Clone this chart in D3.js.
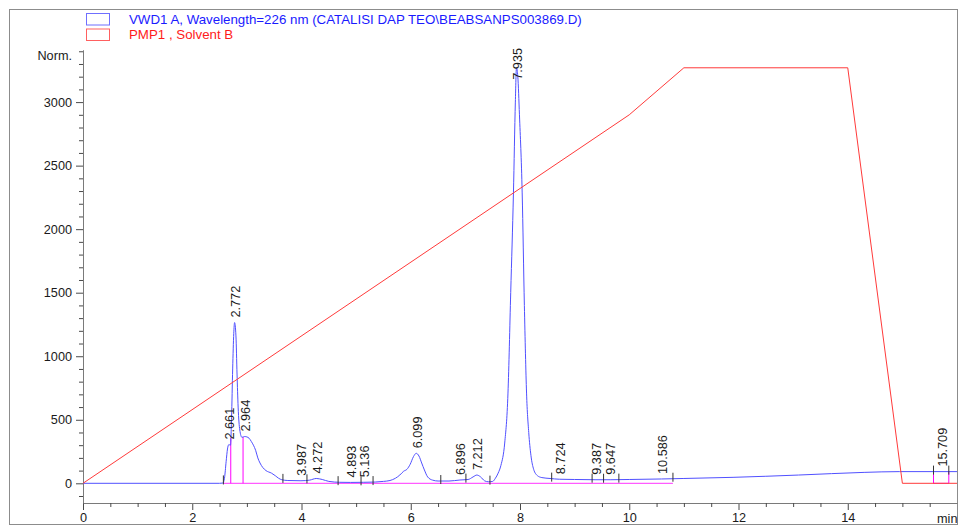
<!DOCTYPE html>
<html><head><meta charset="utf-8">
<script src="https://cdn.jsdelivr.net/npm/d3@7"></script>
<style>
html,body{margin:0;padding:0;background:#fff;}
svg{display:block;font-family:"Liberation Sans",Arial,sans-serif;}
</style></head>
<body><svg id="c" width="960" height="526"></svg>
<script>
// ---- data ----
const legendLabels = ["VWD1 A, Wavelength=226 nm (CATALISI DAP TEO\\BEABSANPS003869.D)", "PMP1 , Solvent B"];
const yMajorTicks = [0, 500, 1000, 1500, 2000, 2500, 3000];
const yMinorTicks = [-100, 100, 200, 300, 400, 600, 700, 800, 900, 1100, 1200, 1300, 1400, 1600, 1700, 1800, 1900, 2100, 2200, 2300, 2400, 2600, 2700, 2800, 2900, 3100, 3200, 3300, 3400];
const xMajorTicks = [0, 2, 4, 6, 8, 10, 12, 14];
const xMinorTicks = [0.5, 1, 1.5, 2.5, 3, 3.5, 4.5, 5, 5.5, 6.5, 7, 7.5, 8.5, 9, 9.5, 10.5, 11, 11.5, 12.5, 13, 13.5, 14.5, 15, 15.5];
// VWD1 A signal: [time (min), Norm.]
const signalTrace = [
 [0,0],[2.50,0],[2.56,2],[2.59,40],[2.62,170],[2.645,270],[2.67,305],[2.70,300],[2.72,520],[2.74,900],
 [2.76,1180],[2.775,1265],[2.80,1160],[2.82,860],[2.84,600],[2.87,420],[2.91,362],[2.96,368],[3.00,365],
 [3.04,355],[3.08,330],[3.12,300],[3.16,260],[3.20,200],[3.24,160],[3.29,125],[3.35,100],[3.45,80],
 [3.52,60],[3.58,40],[3.64,28],[3.75,22],[3.99,20],[4.15,25],[4.27,38],[4.38,30],[4.50,15],[4.70,8],
 [4.90,7],[5.14,8],[5.35,10],[5.50,15],[5.62,22],[5.72,40],[5.80,65],[5.87,95],[5.93,110],[5.99,150],
 [6.05,210],[6.10,236],[6.15,215],[6.20,160],[6.25,105],[6.31,50],[6.40,25],[6.50,18],[6.70,18],
 [6.90,26],[7.05,30],[7.14,50],[7.21,65],[7.28,50],[7.35,20],[7.42,12],[7.50,15],[7.55,40],[7.60,80],
 [7.65,140],[7.72,317],[7.78,710],[7.83,1500],[7.88,2285],[7.915,3000],[7.935,3270],[7.96,3200],
 [7.99,2900],[8.04,2285],[8.08,1400],[8.12,710],[8.16,400],[8.20,220],[8.25,110],[8.32,60],[8.40,45],
 [8.55,38],[8.72,32],[9.0,30],[9.39,28],[9.65,28],[10.0,30],[10.59,34],[11.0,38],[11.9,47],[13.1,65],
 [14.3,86],[14.95,92],[16.0,92]
];
// PMP1 Solvent B (drawn on the Norm. scale)
const solventTrace = [[0,0],[10,2900],[11,3270],[14,3270],[15,0],[16,0]];
// integration results
const peakTimes = [2.661, 2.772, 2.964, 3.987, 4.272, 4.893, 5.136, 6.099, 6.896, 7.212, 7.935, 8.724, 9.387, 9.647, 10.586, 15.709];
const eventTimes = [2.57, 3.66, 4.10, 4.67, 5.09, 5.31, 6.55, 7.01, 7.45, 8.58, 9.32, 9.53, 9.81, 10.80, 15.57, 15.85];
const dropTimes = [2.705, 2.93, 15.57, 15.85];
const baselineSegments = [[2.57, 10.80], [15.57, 15.85]];

// ---- drawing ----
const svg = d3.select("#c");
const x = d3.scaleLinear([0, 16], [83, 957]);
const y = d3.scaleLinear([-155, 3410], [503, 50]);

svg.append("rect").attr("x", 9.5).attr("y", 9.5).attr("width", 948).attr("height", 515)
  .attr("fill", "#fff").attr("stroke", "#8c8c8c").attr("stroke-width", 1);

// legend
const legColors = [{box: "#6f6fff", text: "#1a1aff"}, {box: "#ff6060", text: "#ff1a1a"}];
legendLabels.forEach((lab, i) => {
  svg.append("rect").attr("x", 86.5).attr("y", 13.5 + i * 15.5).attr("width", 23).attr("height", 11.5)
    .attr("fill", "#fff").attr("stroke", legColors[i].box).attr("stroke-width", 1);
  svg.append("text").attr("x", 129).attr("y", 23.5 + i * 15.5).attr("font-size", "13.3px")
    .attr("fill", legColors[i].text).text(lab);
});

// axes
const yAx = svg.append("g").attr("transform", "translate(83,0)")
  .call(d3.axisLeft(y).tickValues(yMajorTicks).tickSize(7).tickPadding(4).tickSizeOuter(0).tickFormat(d3.format("d")));
const yMin = svg.append("g").attr("transform", "translate(83,0)")
  .call(d3.axisLeft(y).tickValues(yMinorTicks).tickSize(4).tickSizeOuter(0).tickFormat(""));
const xAx = svg.append("g").attr("transform", "translate(0,503)")
  .call(d3.axisBottom(x).tickValues(xMajorTicks).tickSize(7).tickPadding(3).tickSizeOuter(0).tickFormat(d3.format("d")));
const xMin = svg.append("g").attr("transform", "translate(0,503)")
  .call(d3.axisBottom(x).tickValues(xMinorTicks).tickSize(4).tickSizeOuter(0).tickFormat(""));
[yAx, yMin, xAx, xMin].forEach(g => {
  g.select(".domain").attr("stroke", "#7a7a7a");
  g.selectAll(".tick line").attr("stroke", "#4a4a4a");
  g.selectAll(".tick text").attr("fill", "#1a1a1a").attr("font-size", "12.7px")
    .attr("font-family", "Liberation Sans, Arial, sans-serif");
});
svg.append("text").attr("x", 72).attr("y", 59.5).attr("text-anchor", "end")
  .attr("font-size", "12.7px").attr("fill", "#1a1a1a").text("Norm.");
svg.append("text").attr("x", 937).attr("y", 522.5)
  .attr("font-size", "12.7px").attr("fill", "#1a1a1a").text("min");

// helpers
function sigAt(t) {
  const i = d3.bisector(d => d[0]).right(signalTrace, t);
  if (i <= 0) return signalTrace[0][1];
  if (i >= signalTrace.length) return signalTrace[signalTrace.length - 1][1];
  const a = signalTrace[i - 1], b = signalTrace[i];
  return a[1] + (b[1] - a[1]) * (t - a[0]) / (b[0] - a[0]);
}

// integration baseline
baselineSegments.forEach(s => {
  svg.append("line").attr("x1", x(s[0])).attr("x2", x(s[1])).attr("y1", y(0)).attr("y2", y(0))
    .attr("stroke", "#ff33ff").attr("stroke-width", 1);
});
dropTimes.forEach(t => {
  svg.append("line").attr("x1", x(t)).attr("x2", x(t)).attr("y1", y(0)).attr("y2", y(sigAt(t)))
    .attr("stroke", "#ff00ff").attr("stroke-width", 1);
});

// signal
const line = d3.line().x(d => x(d[0])).y(d => y(d[1])).curve(d3.curveMonotoneX);
svg.append("path").datum(signalTrace).attr("d", line).attr("fill", "none")
  .attr("stroke", "#5050ff").attr("stroke-width", 1);
const lineR = d3.line().x(d => x(d[0])).y(d => y(d[1]));
svg.append("path").datum(solventTrace).attr("d", lineR).attr("fill", "none")
  .attr("stroke", "#ff3a3a").attr("stroke-width", 1);

// event ticks
eventTimes.forEach(t => {
  const yy = y(sigAt(t));
  svg.append("line").attr("x1", x(t)).attr("x2", x(t)).attr("y1", yy - 6).attr("y2", yy + 3)
    .attr("stroke", "#333").attr("stroke-width", 1);
});

// peak labels
peakTimes.forEach(t => {
  let v = sigAt(t);
  signalTrace.forEach(d => { if (Math.abs(d[0] - t) <= 0.03) v = Math.max(v, d[1]); });
  const txt = svg.append("text").attr("font-size", "12.7px").attr("fill", "#1a1a1a")
    .attr("text-anchor", "start").attr("dominant-baseline", "central").text(t.toFixed(3));
  const len = txt.node().getComputedTextLength();
  const yy = Math.max(y(v) - 5, 48 + len);
  txt.attr("transform", `translate(${x(t) + 1.5},${yy}) rotate(-90)`);
});
</script></body></html>
